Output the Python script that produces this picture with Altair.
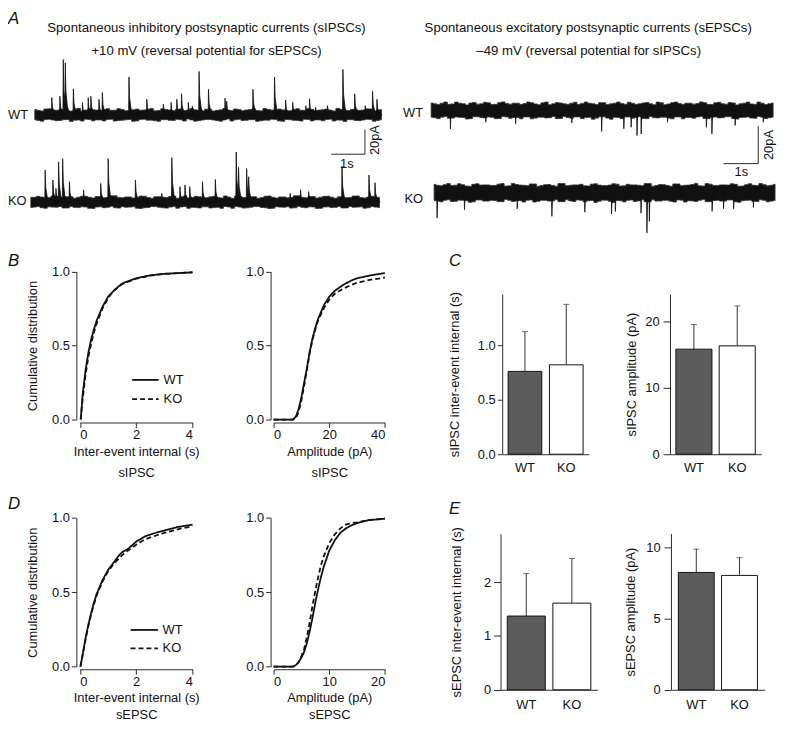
import altair as alt
import numpy as np
import pandas as pd

FONT = "Liberation Sans"
INK = "#111111"
AX = "#2a2a2a"
W, H = 776, 722

# ---------------- Panel A: spontaneous events (time s, amplitude pA) ----------------
ipsc_wt_t = [0.50, 0.74, 0.84, 0.90, 1.14, 1.41, 1.58, 1.66, 1.90, 2.00, 2.79, 3.32, 3.81, 4.04, 4.21,
             4.35, 4.55, 4.67, 4.87, 5.15, 5.64, 5.69, 6.47, 7.11, 7.44, 7.65, 8.04, 8.15, 8.33, 8.68,
             9.14, 9.49, 9.80, 10.02, 10.15]
ipsc_wt_a = [14, 15, 44.6, 42, 21, 10, 14, 15, 12.6, 18, 30.5, 12.6, 8.6, 10, 12.6,
             17, 10, 7, 35, 20.6, 13.4, 11, 20.6, 30.5, 12, 10, 7.4, 13, 6, 7.4,
             36.6, 17, 7.4, 19, 12.6]
ipsc_ko_t = [0.42, 0.65, 0.74, 0.82, 0.94, 1.14, 1.56, 2.07, 2.29, 3.10, 3.88, 4.18, 4.42, 4.57, 4.71,
             5.09, 5.47, 6.09, 6.16, 6.40, 6.46, 7.69, 8.00, 8.24, 9.23, 10.03, 10.21]
ipsc_ko_a = [25.8, 17.8, 11, 32.4, 35, 16.4, 9.8, 15, 35, 17.8, 7, 35.8, 12.4, 13.8, 12.4,
             16.4, 18.2, 40.4, 28, 27, 20.4, 7, 9.8, 8.4, 29, 21.8, 15.6]
epsc_wt_t = [0.55, 1.57, 2.43, 4.05, 4.91, 5.55, 5.76, 5.93, 6.05, 6.81, 7.93, 8.09, 8.76, 9.57]
epsc_wt_a = [-9.8, -6.3, -7.2, -6.7, -11.2, -9.8, -9, -13.3, -12.5, -6.3, -9, -12.5, -8, -6.3]
epsc_ko_t = [0.08, 0.87, 2.39, 3.39, 4.34, 5.11, 5.22, 5.96, 6.13, 6.20, 8.01, 8.34, 8.63, 9.20]
epsc_ko_a = [-13.5, -9.1, -8.6, -12.6, -10.4, -11.4, -10, -10.9, -21.4, -15.3, -10, -8.6, -8.6, -7.9]

# recording durations (s)
dur_ipsc_wt, dur_ipsc_ko, dur_epsc_wt, dur_epsc_ko = 10.29, 10.35, 9.86, 9.83

# baseline noise envelopes (pA)
ipsc_wt_up = [4.2, 3.1, 4.8, 3.6, 4.4, 3.0, 5.2, 3.8, 4.1, 3.4, 4.9, 3.7, 4.3, 3.2, 4.6, 3.9, 5.0, 3.5, 4.2, 3.3, 4.7, 3.8, 4.0, 3.1,
              4.5, 3.6, 5.1, 3.4, 4.3, 3.9, 4.8, 3.2, 4.4, 3.7, 4.0, 3.3, 4.9, 3.6, 4.2, 3.8, 4.6, 3.1, 4.4, 3.5, 4.1, 3.9, 4.7, 3.6]
ipsc_wt_lo = [-4.0, -5.1, -3.6, -4.7, -3.9, -5.3, -4.2, -3.5, -4.8, -4.1, -3.7, -5.0, -4.4, -3.8, -4.9, -3.6, -4.3, -5.2, -3.9, -4.6, -4.0, -3.4, -5.1, -4.2,
              -3.8, -4.7, -4.1, -5.0, -3.6, -4.4, -3.9, -4.8, -4.3, -3.7, -5.2, -4.0, -4.5, -3.6, -4.9, -4.1, -3.8, -5.0, -4.3, -3.9, -4.6, -4.2, -3.7, -4.5]
ipsc_ko_up = [3.8, 4.6, 3.3, 4.9, 3.6, 4.2, 3.1, 4.7, 3.9, 4.4, 3.4, 5.0, 3.7, 4.1, 3.2, 4.8, 3.6, 4.3, 3.9, 4.5, 3.0, 4.9, 3.7, 4.2,
              3.5, 4.6, 3.3, 4.0, 4.8, 3.6, 4.3, 3.1, 4.7, 3.8, 4.1, 3.4, 5.0, 3.7, 4.4, 3.2, 4.6, 3.9, 4.2, 3.5, 4.8, 3.6, 4.0, 3.8]
ipsc_ko_lo = [-4.5, -3.7, -5.0, -4.1, -3.6, -4.8, -4.3, -3.9, -5.1, -4.0, -4.6, -3.5, -4.9, -4.2, -3.8, -5.2, -4.4, -3.7, -4.7, -4.1, -5.0, -3.6, -4.3, -4.8,
              -3.9, -4.5, -5.1, -4.0, -3.7, -4.9, -4.2, -3.6, -4.6, -5.0, -4.1, -3.8, -4.7, -4.3, -3.9, -5.2, -4.0, -4.5, -3.7, -4.8, -4.2, -3.9, -4.6, -4.1]
epsc_wt_up = [3.9, 3.1, 4.4, 3.4, 3.8, 2.9, 4.2, 3.5, 4.0, 3.2, 4.5, 3.3, 3.8, 3.6, 4.1, 3.0, 4.4, 3.5, 3.9, 3.2, 4.3, 3.7, 3.8, 3.1,
              4.1, 3.5, 4.4, 3.2, 3.8, 3.5, 4.2, 3.0, 4.0, 3.4, 4.4, 3.2, 3.8, 3.6, 4.1, 3.1, 4.3, 3.3, 3.9, 3.5, 4.4, 3.2, 3.8, 3.5]
epsc_wt_lo = [-3.6, -4.4, -3.2, -4.1, -3.7, -4.6, -3.4, -3.9, -3.5, -4.4, -3.3, -4.2, -3.8, -3.5, -4.5, -3.6, -4.0, -3.3, -4.3, -3.8, -3.5, -4.4, -3.7, -4.1,
              -3.4, -4.7, -3.8, -3.5, -4.2, -3.3, -4.4, -3.9, -3.6, -4.1, -3.5, -4.5, -3.8, -3.5, -4.3, -3.7, -4.0, -3.4, -4.4, -3.8, -3.5, -4.2, -3.6, -3.9]
epsc_ko_up = [4.4, 3.6, 4.8, 3.9, 4.2, 3.4, 4.7, 4.1, 3.8, 4.5, 3.5, 4.9, 4.0, 3.7, 4.6, 3.8, 4.3, 3.4, 4.8, 3.9, 4.1, 3.6, 4.5, 4.0,
              3.8, 4.7, 3.5, 4.4, 4.1, 3.7, 4.8, 3.8, 4.2, 3.4, 4.6, 3.9, 4.3, 3.6, 4.8, 3.8, 4.1, 4.0, 4.4, 3.5, 4.7, 3.8, 4.2, 3.9]
epsc_ko_lo = [-4.2, -4.9, -3.8, -4.6, -4.1, -5.1, -3.9, -4.5, -4.1, -4.8, -3.7, -4.7, -4.3, -4.0, -5.0, -4.1, -4.5, -3.8, -4.8, -4.4, -3.9, -4.9, -4.2, -4.6,
              -4.0, -5.2, -4.3, -4.1, -4.7, -3.8, -4.8, -4.5, -4.1, -4.6, -3.9, -5.0, -4.4, -4.1, -4.8, -4.2, -4.5, -3.9, -4.9, -4.3, -4.0, -4.7, -4.1, -4.5]

# scale bars: 1 s and 20 pA
bar_ipsc = {"t0": 8.80, "t1": 9.80, "v0": -31.8, "v1": -11.8}
bar_epsc = {"t0": 8.43, "t1": 9.43, "v0": -28.3, "v1": -8.3}

# ---------------- Panels B / D: cumulative distributions ----------------
ipsc_iei_x = [0.03, 0.1, 0.2, 0.3, 0.4, 0.5, 0.6, 0.8, 1.0, 1.2, 1.5, 2.0, 2.5, 3.0, 3.5, 4.0]
ipsc_iei_wt = [0, 0.17, 0.33, 0.45, 0.54, 0.61, 0.67, 0.76, 0.83, 0.87, 0.92, 0.955, 0.975, 0.985, 0.99, 0.995]
ipsc_iei_ko = [0, 0.14, 0.30, 0.42, 0.51, 0.59, 0.65, 0.75, 0.82, 0.87, 0.915, 0.952, 0.973, 0.984, 0.99, 0.995]
ipsc_amp_x = [0, 5, 7, 8, 9, 10, 11, 12, 13, 14, 15, 16, 18, 20, 22, 25, 28, 30, 35, 40]
ipsc_amp_wt = [0, 0, 0, 0.02, 0.07, 0.15, 0.25, 0.35, 0.46, 0.55, 0.62, 0.68, 0.77, 0.83, 0.87, 0.91, 0.94, 0.955, 0.975, 0.99]
ipsc_amp_ko = [0, 0, 0, 0.01, 0.05, 0.13, 0.23, 0.34, 0.45, 0.54, 0.61, 0.67, 0.75, 0.81, 0.85, 0.885, 0.91, 0.925, 0.945, 0.96]
epsc_iei_x = [0.02, 0.1, 0.2, 0.3, 0.4, 0.5, 0.6, 0.8, 1.0, 1.2, 1.4, 1.5, 1.7, 2.0, 2.3, 2.6, 3.0, 3.5, 4.0]
epsc_iei_wt = [0, 0.08, 0.19, 0.28, 0.36, 0.43, 0.49, 0.58, 0.65, 0.70, 0.75, 0.77, 0.79, 0.84, 0.875, 0.895, 0.915, 0.94, 0.955]
epsc_iei_ko = [0, 0.08, 0.18, 0.27, 0.35, 0.42, 0.48, 0.57, 0.64, 0.69, 0.73, 0.75, 0.78, 0.82, 0.855, 0.875, 0.9, 0.925, 0.945]
epsc_amp_x = [0, 2, 3.5, 4, 4.5, 5, 5.5, 6, 6.5, 7, 7.5, 8, 8.5, 9, 10, 11, 12, 13, 14, 15, 17, 20]
epsc_amp_wt = [0, 0, 0, 0.01, 0.03, 0.06, 0.1, 0.16, 0.24, 0.33, 0.43, 0.52, 0.6, 0.67, 0.78, 0.85, 0.9, 0.93, 0.95, 0.965, 0.985, 0.995]
epsc_amp_ko = [0, 0, 0, 0.01, 0.03, 0.07, 0.12, 0.2, 0.3, 0.41, 0.51, 0.6, 0.68, 0.74, 0.83, 0.89, 0.93, 0.955, 0.965, 0.97, 0.985, 0.995]

# ---------------- Panels C / E: means and SEM ----------------
groups = ["WT", "KO"]
ipsc_iei_mean, ipsc_iei_sem = [0.76, 0.82], [0.365, 0.555]
ipsc_amp_mean, ipsc_amp_sem = [15.8, 16.3], [3.7, 6.0]
epsc_iei_mean, epsc_iei_sem = [1.37, 1.61], [0.79, 0.83]
epsc_amp_mean, epsc_amp_sem = [8.26, 8.05], [1.64, 1.25]

# ---------------- texts ----------------
title_ipsc = ["Spontaneous inhibitory postsynaptic currents (sIPSCs)", "+10 mV (reversal potential for sEPSCs)"]
title_epsc = ["Spontaneous excitatory postsynaptic currents (sEPSCs)", "\u201349 mV (reversal potential for sIPSCs)"]

# ======================================================================
IPSC_SHAPE = ([-0.004, 0.006, 0.025, 0.07, 0.16], [0, 1, 0.45, 0.15, 0])
EPSC_SHAPE = ([-0.004, 0.005, 0.02, 0.06], [0, 1, 0.3, 0])


def weave(vals):
    """Interleave an envelope with its reverse to double the edge detail."""
    out = []
    for a, b in zip(vals, vals[::-1]):
        out += [a, b]
    return out


def events_df(ts, amps, shape):
    rows = []
    for i, (t, a) in enumerate(zip(ts, amps)):
        for dt, f in zip(*shape):
            rows.append({"ev": i, "t": t + dt, "v": a * f, "b": 0.0})
    return pd.DataFrame(rows)


def trace(dur, up, lo, ts, amps, shape, x0, px_s, base, px_pa, bar=None):
    xs = alt.Scale(domain=[0, 1], range=[x0, x0 + px_s], zero=False, nice=False)
    ys = alt.Scale(domain=[0, 20], range=[base, base - 20 * px_pa], zero=False, nice=False)
    u, l = weave(up), weave(lo)
    band = pd.DataFrame({"t": np.linspace(0, dur, len(u)), "up": u, "lo": l})
    layers = [
        alt.Chart(band).mark_area(color=INK, stroke="#333333", strokeWidth=0.8, interpolate="step").encode(
            x=alt.X("t:Q", scale=xs, axis=None),
            y=alt.Y("up:Q", scale=ys, axis=None),
            y2="lo:Q"),
        alt.Chart(events_df(ts, amps, shape)).mark_area(color=INK, stroke=INK, strokeWidth=0.8).encode(
            x=alt.X("t:Q", scale=xs, axis=None),
            y=alt.Y("v:Q", scale=ys, axis=None, stack=None),
            y2="b:Q",
            detail="ev:N"),
    ]
    if bar is not None:
        sb = pd.DataFrame([bar])
        layers.append(alt.Chart(sb).mark_rule(color=AX, strokeWidth=1).encode(
            x=alt.X("t0:Q", scale=xs, axis=None), x2="t1:Q",
            y=alt.Y("v0:Q", scale=ys, axis=None)))
        layers.append(alt.Chart(sb).mark_rule(color=AX, strokeWidth=1).encode(
            x=alt.X("t1:Q", scale=xs, axis=None),
            y=alt.Y("v0:Q", scale=ys, axis=None), y2="v1:Q"))
    return alt.layer(*layers)


def cdf(xv, wt, ko, xdom, xrng, yrng, xticks, x_axis_y, y_axis_x, xtitle, ytitle, lh):
    df = pd.DataFrame({"x": list(xv) + list(xv), "y": list(wt) + list(ko),
                       "g": ["WT"] * len(xv) + ["KO"] * len(xv)})
    xaxis = alt.Axis(orient="bottom", offset=x_axis_y - H, values=xticks, title=xtitle,
                     labelPadding=1, titlePadding=4, titleLineHeight=lh, tickSize=5)
    ykw = dict(orient="left", offset=-y_axis_x, values=[0, 0.5, 1], format=".1f", tickSize=5,
               labelPadding=2)
    if ytitle:
        ykw.update(title=ytitle, titlePadding=12)
    else:
        ykw.update(title=None)
    return alt.Chart(df).mark_line(color=INK, strokeWidth=1.8).encode(
        x=alt.X("x:Q", scale=alt.Scale(domain=xdom, range=xrng, zero=False, nice=False), axis=xaxis),
        y=alt.Y("y:Q", scale=alt.Scale(domain=[0, 1], range=yrng, zero=False, nice=False), axis=alt.Axis(**ykw)),
        strokeDash=alt.StrokeDash("g:N", scale=alt.Scale(domain=groups, range=[[1, 0], [5, 3]]), legend=None),
    )


def bars(mean, sem, ydom, yrng, xrng, pi, po, yticks, fmt, x_axis_y, y_axis_x, ytitle,
         tpad, lpad, tsize, ypad):
    df = pd.DataFrame({"g": groups, "m": mean, "top": [m + s for m, s in zip(mean, sem)]})
    xs = alt.Scale(type="band", domain=groups, range=xrng, paddingInner=pi, paddingOuter=po)
    ys = alt.Scale(domain=ydom, range=yrng, zero=False, nice=False)
    xax = alt.Axis(orient="bottom", offset=x_axis_y - H, ticks=False, tickSize=0, labelPadding=lpad,
                   title=None, labelAngle=0)
    yax = alt.Axis(orient="left", offset=-y_axis_x, values=yticks, format=fmt, title=ytitle,
                   titlePadding=tpad, tickSize=tsize, labelPadding=ypad)
    b = alt.Chart(df).mark_bar(stroke=INK, strokeWidth=1).encode(
        x=alt.X("g:N", scale=xs, sort=groups, axis=xax),
        y=alt.Y("m:Q", scale=ys, axis=yax, stack=None),
        fill=alt.Fill("g:N", scale=alt.Scale(domain=groups, range=["#5c5c5c", "#ffffff"]), legend=None),
    )
    r = alt.Chart(df).mark_rule(color="#333333", strokeWidth=1).encode(
        x=alt.X("g:N", scale=xs, sort=groups, axis=xax),
        y=alt.Y("m:Q", scale=ys, axis=yax), y2="top:Q")
    c = alt.Chart(df).mark_tick(color="#333333", thickness=1, size=6, orient="horizontal").encode(
        x=alt.X("g:N", scale=xs, sort=groups, axis=xax),
        y=alt.Y("top:Q", scale=ys, axis=yax))
    return alt.layer(b, r, c)


def label(txt, x, y, size=13, align="left", baseline="middle", angle=0, style="normal"):
    kw = dict(font=FONT, fontSize=size, align=align, baseline=baseline, color=INK, fontStyle=style)
    if angle:
        kw["angle"] = angle
    return alt.Chart(pd.DataFrame({"s": [txt]})).mark_text(**kw).encode(
        text="s:N", x=alt.value(x), y=alt.value(y))


def legend_line(x1, x2, y, dash=None):
    kw = dict(color=INK, strokeWidth=1.8)
    if dash:
        kw["strokeDash"] = dash
    return alt.Chart(pd.DataFrame({"s": [0]})).mark_rule(**kw).encode(
        x=alt.value(x1), x2=alt.value(x2), y=alt.value(y))


layers = [
    # ---- A traces ----
    trace(dur_ipsc_wt, ipsc_wt_up, ipsc_wt_lo, ipsc_wt_t, ipsc_wt_a, IPSC_SHAPE, 27, 34, 104.5, 1.25, bar_ipsc),
    trace(dur_ipsc_ko, ipsc_ko_up, ipsc_ko_lo, ipsc_ko_t, ipsc_ko_a, IPSC_SHAPE, 23, 34, 192.5, 1.25),
    trace(dur_epsc_wt, epsc_wt_up, epsc_wt_lo, epsc_wt_t, epsc_wt_a, EPSC_SHAPE, 427, 35, 100, 1.9, bar_epsc),
    trace(dur_epsc_ko, epsc_ko_up, epsc_ko_lo, epsc_ko_t, epsc_ko_a, EPSC_SHAPE, 430, 35, 183, 1.9),
    # ---- B ----
    cdf(ipsc_iei_x, ipsc_iei_wt, ipsc_iei_ko, [0, 4], [72.5, 186.2], [412, 262.7], [0, 2, 4], 415, 69,
        ["Inter-event internal (s)", "sIPSC"], "Cumulative distribution", 21),
    cdf(ipsc_amp_x, ipsc_amp_wt, ipsc_amp_ko, [0, 40], [268, 380.3], [412, 262.7], [0, 20, 40], 415, 265,
        ["Amplitude (pA)", "sIPSC"], None, 21),
    # ---- D ----
    cdf(epsc_iei_x, epsc_iei_wt, epsc_iei_ko, [0, 4], [72.5, 186.2], [661.3, 511.3], [0, 2, 4], 664, 69,
        ["Inter-event internal (s)", "sEPSC"], "Cumulative distribution", 17),
    cdf(epsc_amp_x, epsc_amp_wt, epsc_amp_ko, [0, 20], [268, 380.3], [661.3, 511.3], [0, 10, 20], 664, 265,
        ["Amplitude (pA)", "sEPSC"], None, 17),
    # ---- C ----
    bars(ipsc_iei_mean, ipsc_iei_sem, [0, 1.47], [447, 285.3], [499, 586], 0.185, 0.136, [0, 0.5, 1.0], ".1f",
         447, 498.7, "sIPSC inter-event internal (s)", 16, 7, 5, 2),
    bars(ipsc_amp_mean, ipsc_amp_sem, [0, 24.1], [447, 285.3], [668, 760], 0.167, 0.136, [0, 10, 20], "d",
         447, 668, "sIPSC amplitude (pA)", 6, 7, 7, 4),
    # ---- E ----
    bars(epsc_iei_mean, epsc_iei_sem, [0, 2.9], [684.7, 527.2], [497, 595], 0.167, 0.149, [0, 1, 2], "d",
         684.7, 497, "sEPSC inter-event internal (s)", 20, 9, 7, 3),
    bars(epsc_amp_mean, epsc_amp_sem, [0, 11], [684.7, 527], [669, 763.7], 0.17, 0.171, [0, 5, 10], "d",
         684.7, 669, "sEPSC amplitude (pA)", 8, 9, 7, 4),
    # ---- legends ----
    legend_line(125.3, 152, 372), legend_line(125.3, 152, 391.3, [5, 3]),
    label("WT", 157, 372), label("KO", 157, 391.3),
    legend_line(123.7, 151.3, 624.3), legend_line(123.7, 151.3, 643, [5, 3]),
    label("WT", 156, 624.3), label("KO", 156, 643),
    # ---- titles ----
    label(title_ipsc[0], 200.3, 21, size=13.3, align="center", baseline="alphabetic"),
    label(title_ipsc[1], 200.3, 44.5, size=13.3, align="center", baseline="alphabetic"),
    label(title_epsc[0], 585.5, 21, size=13.3, align="center", baseline="alphabetic"),
    label(title_epsc[1], 586, 44.5, size=13.3, align="center", baseline="alphabetic"),
    # ---- trace labels ----
    label("WT", 0, 105), label("KO", 0, 192),
    label("WT", 398.7, 103), label("KO", 400, 189.5),
    label("1s", 342, 153.7, align="center"), label("20pA", 370, 130, align="center", angle=270),
    label("1s", 740, 162.7, align="center"), label("20pA", 768, 135, align="center", angle=270),
    # ---- panel letters ----
    label("A", 0, 13, size=17, baseline="alphabetic", style="italic"),
    label("B", 0, 257, size=17, baseline="alphabetic", style="italic"),
    label("C", 445, 257, size=17, baseline="alphabetic", style="italic"),
    label("D", 0, 502, size=17, baseline="alphabetic", style="italic"),
    label("E", 445, 507, size=17, baseline="alphabetic", style="italic"),
]

chart = alt.layer(*layers).resolve_scale(
    x="independent", y="independent", strokeDash="independent", fill="independent"
).properties(
    width=W, height=H, padding=0, autosize=alt.AutoSizeParams(type="none")
).configure_view(strokeWidth=0).configure_axis(
    grid=False, domainColor=AX, tickColor=AX, labelColor=INK, titleColor=INK,
    labelFont=FONT, titleFont=FONT, labelFontSize=13, titleFontSize=13,
    titleFontWeight="normal", domainWidth=1, tickWidth=1,
)

chart.save("out.html", embed_options={"renderer": "svg", "actions": False})
